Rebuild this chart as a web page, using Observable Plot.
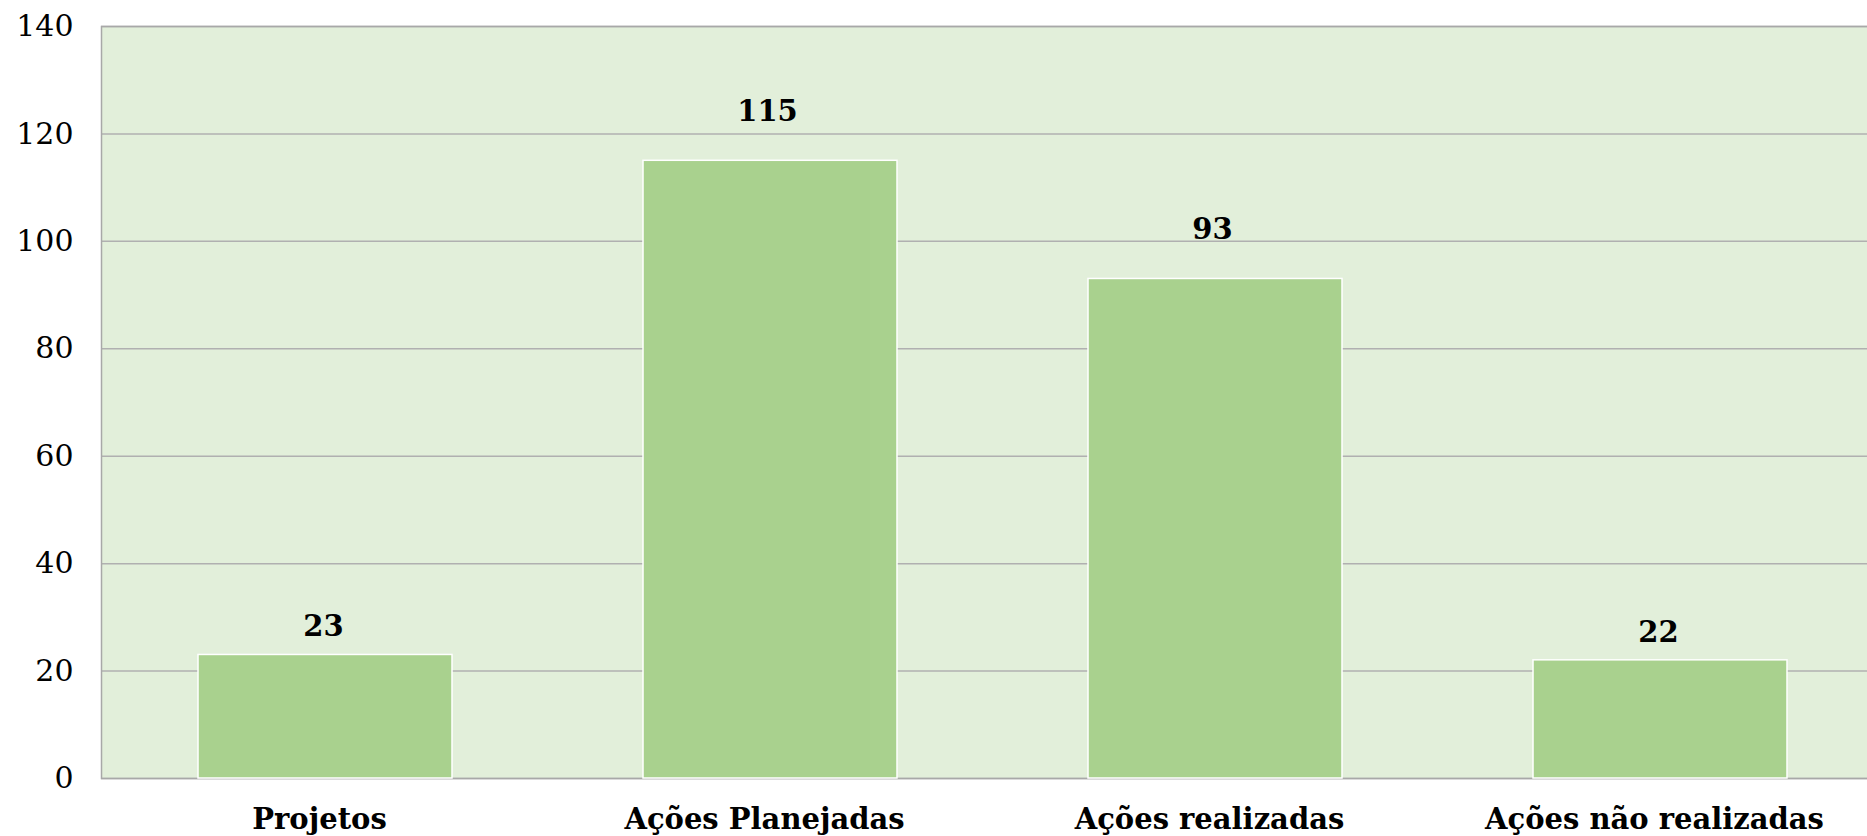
<!DOCTYPE html>
<html>
<head>
<meta charset="utf-8">
<script src="https://cdn.jsdelivr.net/npm/d3@7"></script>
<script src="https://cdn.jsdelivr.net/npm/@observablehq/plot@0.6"></script>
<style>
html, body { margin: 0; padding: 0; background: #fff; overflow: hidden; width: 1867px; height: 836px; }
#chart { width: 1867px; height: 836px; overflow: hidden; position: relative; }
#chart svg { display: block; }
</style>
</head>
<body>
<div id="chart"></div>
<script>
const categories = ["Projetos", "Ações Planejadas", "Ações realizadas", "Ações não realizadas"];
const values = [23, 115, 93, 22];
const yTicks = [0, 20, 40, 60, 80, 100, 120, 140];

const data = categories.map((c, i) => ({category: c, value: values[i]}));

const chart = Plot.plot({
  width: 1884,
  height: 836,
  marginLeft: 101,
  marginRight: 0,
  marginTop: 26,
  marginBottom: 58,
  style: {fontFamily: "DejaVu Serif", fontSize: "28px", color: "#000", background: "#fff", maxWidth: "none"},
  x: {domain: categories, paddingInner: 0.43, paddingOuter: 0.215, label: null},
  y: {domain: [0, 140], label: null},
  marks: [
    Plot.frame({fill: "#E2EFDA", stroke: null}),
    Plot.ruleY(yTicks, {stroke: "#b0b0b0", strokeWidth: 1.5, strokeOpacity: 1}),
    Plot.frame({fill: null, stroke: "#a8a8a8", strokeWidth: 1.5}),
    Plot.barY(data, {x: "category", y: "value", fill: "#A9D18E", stroke: "#ffffff", strokeWidth: 1.5}),
    Plot.text(data.filter(d => d.value < 50), {x: "category", y: "value", text: d => String(d.value), dy: -28, dx: -2, fontWeight: "bold", fontSize: 29, fill: "#000"}),
    Plot.text(data.filter(d => d.value >= 50), {x: "category", y: "value", text: d => String(d.value), dy: -49, dx: -3, fontWeight: "bold", fontSize: 29, fill: "#000"}),
    Plot.axisY({ticks: yTicks, tickSize: 0, tickPadding: 28, label: null, fontSize: 30, fill: "#000"}),
    Plot.axisX({tickSize: 0, tickPadding: 30, dx: -6, label: null, fontWeight: "bold", fontSize: 29, fill: "#000"})
  ]
});
document.getElementById("chart").appendChild(chart);
</script>
</body>
</html>
